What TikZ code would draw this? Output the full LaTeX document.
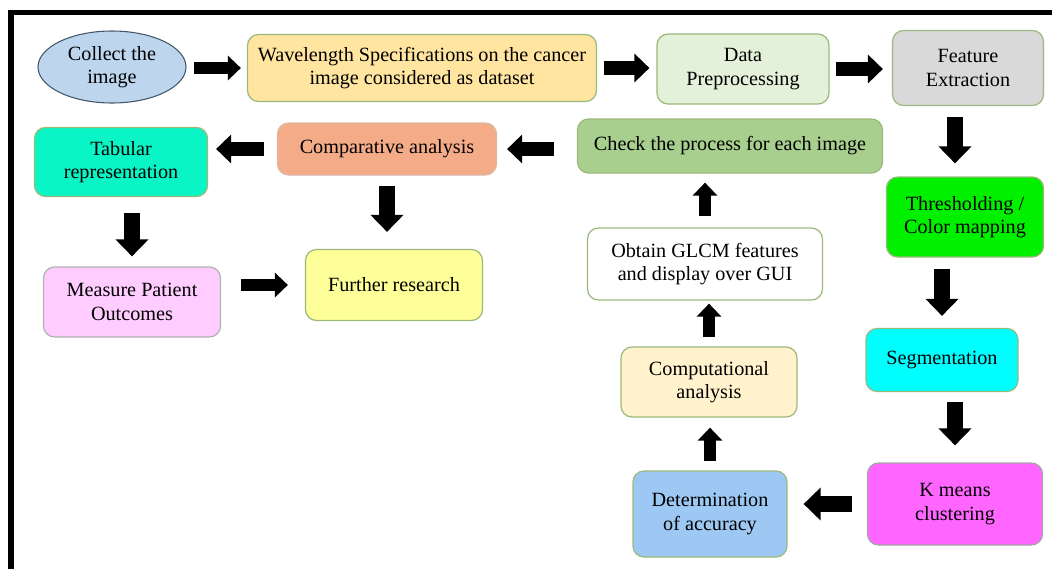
\documentclass[tikz,border=0pt]{standalone}
\usepackage{fontspec}
\setmainfont{Liberation Serif}
\usetikzlibrary{arrows.meta,shapes.geometric}
\definecolor{edge}{HTML}{9CB97C}
\definecolor{collectfill}{HTML}{BDD6EE}
\definecolor{collectedge}{HTML}{42566B}
\definecolor{wavefill}{HTML}{FFE5A0}
\definecolor{prepfill}{HTML}{E3F0DA}
\definecolor{featfill}{HTML}{D9D9D9}
\definecolor{threshfill}{HTML}{00F000}
\definecolor{segfill}{HTML}{00FFFF}
\definecolor{kmfill}{HTML}{FF66FF}
\definecolor{accfill}{HTML}{9DC8F3}
\definecolor{compfill}{HTML}{FFF2CC}
\definecolor{checkfill}{HTML}{A9CF8F}
\definecolor{comparefill}{HTML}{F4AC88}
\definecolor{tabfill}{HTML}{0AF5C5}
\definecolor{measurefill}{HTML}{FFCCFF}
\definecolor{furtherfill}{HTML}{FFFF99}
\tikzset{
    box/.style={draw=edge, line width=0.7pt, rounded corners=0.22cm, align=center,
        inner sep=0pt, font=\fontsize{11.5}{13.4}\selectfont},
    dims/.style 2 args={minimum width=#1*0.02cm, minimum height=#2*0.02cm},
    arrowS/.style={line width=0.25cm, -{Triangle[length=0.26cm,width=0.48cm]}},
    arrowM/.style={line width=0.29cm, -{Triangle[length=0.3cm,width=0.56cm]}},
    arrowL/.style={line width=0.32cm, -{Triangle[length=0.34cm,width=0.64cm]}},
    fat/.style 2 args={shorten <=#1*0.02cm, shorten >=#2*0.02cm}
}

\begin{document}
\begin{tikzpicture}[x=0.02cm, y=-0.02cm]
    \useasboundingbox (0,0) rectangle (1052,569);
    \draw[line width=0.11cm] (11,569) -- (11,12.5) -- (1052,12.5);

    % top row
    \node[ellipse, draw=collectedge, line width=0.6pt, fill=collectfill, align=center, inner sep=0pt,
        font=\fontsize{11.5}{13.4}\selectfont, dims={148}{72}] (collect) at (112,67) {Collect the\\image};
    \node[box, fill=wavefill, dims={349}{67}] (wavelen) at (422,68)
        {Wavelength Specifications on the cancer\\image considered as dataset};
    \node[box, fill=prepfill, dims={172}{70}] (preproc) at (743,69) {Data\\Preprocessing};
    \node[box, fill=featfill, dims={151}{75}] (feature) at (968,68) {Feature\\Extraction};

    % right column
    \node[box, fill=threshfill, dims={157}{80}] (thresh) at (965,217) {Thresholding /\\Color mapping};
    \node[box, fill=segfill, dims={152}{63}] (segment) at (942,360) {Segmentation};
    \node[box, fill=kmfill, draw=black!35, dims={175}{82}] (kmeans) at (955,504) {K means\\clustering};

    % middle column
    \node[box, fill=accfill, dims={154}{86}] (accuracy) at (710,514) {Determination\\of accuracy};
    \node[box, fill=compfill, dims={176}{70}] (compute) at (709,382) {Computational\\analysis};
    \node[box, fill=white, dims={235}{72}] (glcm) at (705,264) {Obtain GLCM features\\and display over GUI};
    \node[box, fill=checkfill, dims={305}{54}] (check) at (730,146) {Check the process for each image};

    % left part
    \node[box, fill=comparefill, draw=comparefill!80!black!60, dims={219}{52}] (compare) at (387,149) {Comparative analysis};
    \node[box, fill=tabfill, dims={173}{69}] (tabular) at (121,162) {Tabular\\representation};
    \node[box, fill=measurefill, draw=black!30, dims={177}{70}] (measure) at (132,302) {Measure Patient\\Outcomes};
    \node[box, fill=furtherfill, dims={177}{71}] (further) at (394,285) {Further research};

    % arrows
    \draw[arrowS, fat={7}{6}] (collect.east |- wavelen) -- (wavelen.west);
    \draw[arrowM, fat={7}{7}] (wavelen.east) -- (wavelen.east -| preproc.west);
    \draw[arrowM, fat={6}{9}] (preproc.east) -- (preproc.east -| feature.west);
    \draw[arrowL, fat={11}{13}] (feature.south -| kmeans) -- (thresh.north -| kmeans);
    \draw[arrowL, fat={11}{12}] (thresh.south -| segment) -- (segment.north);
    \draw[arrowL, fat={10}{17}] (segment.south -| kmeans) -- (kmeans.north);
    \draw[arrowL, fat={15}{16}] (kmeans.west) -- (kmeans.west -| accuracy.east);
    \draw[arrowS, fat={9}{10}] (accuracy.north) -- (accuracy.north |- compute.south);
    \draw[arrowS, fat={9}{3}] (compute.north) -- (compute.north |- glcm.south);
    \draw[arrowS, fat={11}{9}] (glcm.north) -- (glcm.north |- check.south);
    \draw[arrowM, fat={23}{10}] (check.west |- compare) -- (compare.east);
    \draw[arrowM, fat={13}{8}] (compare.west) -- (compare.west -| tabular.east);
    \draw[arrowL, fat={10}{17}] (compare.south) -- (compare.south |- further.north);
    \draw[arrowL, fat={16}{10}] (tabular.south -| measure) -- (measure.north);
    \draw[arrowS, fat={20}{17}] (measure.east |- further) -- (further.west);
\end{tikzpicture}
\end{document}
